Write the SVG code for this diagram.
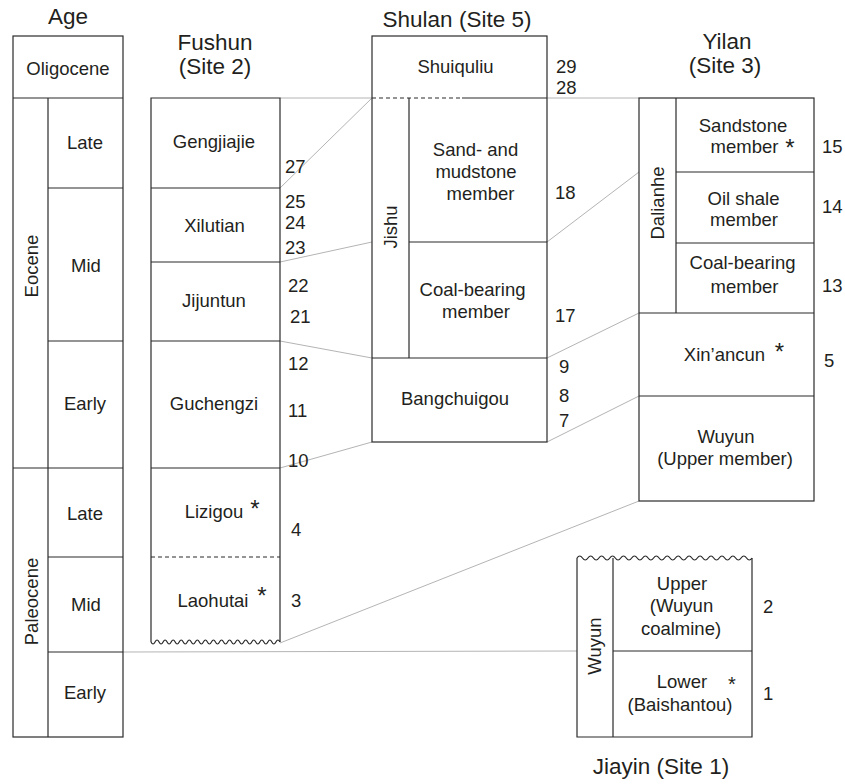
<svg xmlns="http://www.w3.org/2000/svg" width="845" height="784" viewBox="0 0 845 784">
<style>
text{font-family:"Liberation Sans",Arial,Helvetica,sans-serif;fill:#231f20;font-size:18.5px;text-anchor:middle}
.t{font-size:22.5px}
.n{text-anchor:start}
.s{font-size:24px}
.b{fill:none;stroke:#2b2b2b;stroke-width:1.2}
.d{fill:none;stroke:#2b2b2b;stroke-width:1.2;stroke-dasharray:4,3}
.c{fill:none;stroke:#b4b4b4;stroke-width:1}
</style>
<rect width="845" height="784" fill="#fff"/>

<g id="connectors" class="c">
<path d="M280,98H372M547,98H639"/>
<path d="M280,188L372,98"/>
<path d="M280,262L372,242"/>
<path d="M280,341L372,358"/>
<path d="M280,468L372,442"/>
<path d="M547,242L639,172"/>
<path d="M547,358L639,313"/>
<path d="M547,442L639,396"/>
<path d="M280,643L639,501"/>
<path d="M123,652L577,651"/>
</g>

<g id="age">
<text class="t" x="68" y="24">Age</text>
<rect class="b" x="13" y="36" width="110" height="701"/>
<path class="b" d="M13,98H123M48,98V737M48,188H123M48,341H123M13,468H123M48,557H123M48,652H123"/>
<g id="age-oligocene"><text x="68" y="75">Oligocene</text></g>
<g id="age-eocene"><text transform="translate(37.5,266) rotate(-90)">Eocene</text></g>
<g id="age-eocene-late"><text x="85" y="149">Late</text></g>
<g id="age-eocene-mid"><text x="86" y="272">Mid</text></g>
<g id="age-eocene-early"><text x="85" y="410">Early</text></g>
<g id="age-paleocene"><text transform="translate(38,601.5) rotate(-90)">Paleocene</text></g>
<g id="age-paleocene-late"><text x="85" y="520">Late</text></g>
<g id="age-paleocene-mid"><text x="86" y="611">Mid</text></g>
<g id="age-paleocene-early"><text x="85" y="699">Early</text></g>
</g>

<g id="fushun">
<text class="t" x="215" y="50">Fushun</text>
<text class="t" x="215" y="74">(Site 2)</text>
<path class="b" d="M151,642V98H280V642M151,188H280M151,262H280M151,341H280M151,468H280"/>
<path class="d" d="M151,557H280"/>
<path class="b" d="M151,642q2.02,4 4.03,0t4.03,0t4.03,0t4.03,0t4.03,0t4.03,0t4.03,0t4.03,0t4.03,0t4.03,0t4.03,0t4.03,0t4.03,0t4.03,0t4.03,0t4.03,0t4.03,0t4.03,0t4.03,0t4.03,0t4.03,0t4.03,0t4.03,0t4.03,0t4.03,0t4.03,0t4.03,0t4.03,0t4.03,0t4.03,0t4.03,0t4.03,0"/>
<g id="fushun-gengjiajie"><text x="214" y="148">Gengjiajie</text></g>
<g id="fushun-xilutian"><text x="214.5" y="232">Xilutian</text></g>
<g id="fushun-jijuntun"><text x="214" y="307">Jijuntun</text></g>
<g id="fushun-guchengzi"><text x="214" y="410">Guchengzi</text></g>
<g id="fushun-lizigou"><text x="214" y="518">Lizigou</text><text class="s" x="255" y="517">*</text></g>
<g id="fushun-laohutai"><text x="213" y="607">Laohutai</text><text class="s" x="262" y="604">*</text></g>
<g id="fushun-numbers">
<text class="n" x="285" y="173">27</text>
<text class="n" x="285" y="208">25</text>
<text class="n" x="285" y="229">24</text>
<text class="n" x="285" y="254">23</text>
<text class="n" x="288" y="292">22</text>
<text class="n" x="290" y="323">21</text>
<text class="n" x="288" y="370">12</text>
<text class="n" x="288" y="417">11</text>
<text class="n" x="288" y="467">10</text>
<text class="n" x="291" y="536">4</text>
<text class="n" x="291" y="607">3</text>
</g>
</g>

<g id="shulan">
<text class="t" x="457" y="27">Shulan (Site 5)</text>
<rect class="b" x="372" y="36" width="175" height="406"/>
<path class="d" d="M372,98H462"/>
<path class="b" d="M462,98H547M409,98V358M409,242H547M372,358H547"/>
<g id="shulan-shuiquliu"><text x="455.5" y="73">Shuiquliu</text></g>
<g id="shulan-jishu"><text transform="translate(397,227) rotate(-90)">Jishu</text></g>
<g id="shulan-sand-mudstone"><text x="475.5" y="156">Sand- and</text><text x="476" y="178">mudstone</text><text x="480.5" y="200">member</text></g>
<g id="shulan-coal-bearing"><text x="472.5" y="296">Coal-bearing</text><text x="476" y="318">member</text></g>
<g id="shulan-bangchuigou"><text x="455" y="405">Bangchuigou</text></g>
<g id="shulan-numbers">
<text class="n" x="556" y="73">29</text>
<text class="n" x="556" y="94">28</text>
<text class="n" x="555" y="199">18</text>
<text class="n" x="555" y="322">17</text>
<text class="n" x="559" y="373">9</text>
<text class="n" x="559" y="402">8</text>
<text class="n" x="559" y="427">7</text>
</g>
</g>

<g id="yilan">
<text class="t" x="727" y="49">Yilan</text>
<text class="t" x="725" y="73">(Site 3)</text>
<rect class="b" x="639" y="98" width="175" height="403"/>
<path class="b" d="M676,98V313M676,172H814M676,243H814M639,313H814M639,396H814"/>
<g id="yilan-dalianhe"><text transform="translate(664,203) rotate(-90)">Dalianhe</text></g>
<g id="yilan-sandstone"><text x="743" y="132">Sandstone</text><text x="744.5" y="153">member</text><text class="s" x="790" y="156">*</text></g>
<g id="yilan-oil-shale"><text x="743.5" y="205">Oil shale</text><text x="744" y="226">member</text></g>
<g id="yilan-coal-bearing"><text x="742.5" y="269">Coal-bearing</text><text x="744.5" y="293">member</text></g>
<g id="yilan-xinancun"><text x="724.5" y="361">Xin’ancun</text><text class="s" x="779.5" y="360">*</text></g>
<g id="yilan-wuyun"><text x="726" y="443">Wuyun</text><text x="725" y="465">(Upper member)</text></g>
<g id="yilan-numbers">
<text class="n" x="822" y="153">15</text>
<text class="n" x="822" y="213">14</text>
<text class="n" x="822" y="292">13</text>
<text class="n" x="824" y="367">5</text>
</g>
</g>

<g id="jiayin">
<path class="b" d="M577,558V737H752V558M613,558V737M613,651H752"/>
<path class="b" d="M577,558q2.73,-4 5.47,0t5.47,0t5.47,0t5.47,0t5.47,0t5.47,0t5.47,0t5.47,0t5.47,0t5.47,0t5.47,0t5.47,0t5.47,0t5.47,0t5.47,0t5.47,0t5.47,0t5.47,0t5.47,0t5.47,0t5.47,0t5.47,0t5.47,0t5.47,0t5.47,0t5.47,0t5.47,0t5.47,0t5.47,0t5.47,0t5.47,0t5.47,0"/>
<g id="jiayin-wuyun"><text transform="translate(601,646) rotate(-90)">Wuyun</text></g>
<g id="jiayin-upper"><text x="682" y="590">Upper</text><text x="681.5" y="612">(Wuyun</text><text x="681" y="635">coalmine)</text></g>
<g id="jiayin-lower"><text x="682" y="688">Lower</text><text x="732" y="691" style="font-size:20px">*</text><text x="680" y="711">(Baishantou)</text></g>
<g id="jiayin-numbers">
<text class="n" x="763" y="613">2</text>
<text class="n" x="763" y="700">1</text>
</g>
<text class="t" x="661" y="774">Jiayin (Site 1)</text>
</g>
</svg>
